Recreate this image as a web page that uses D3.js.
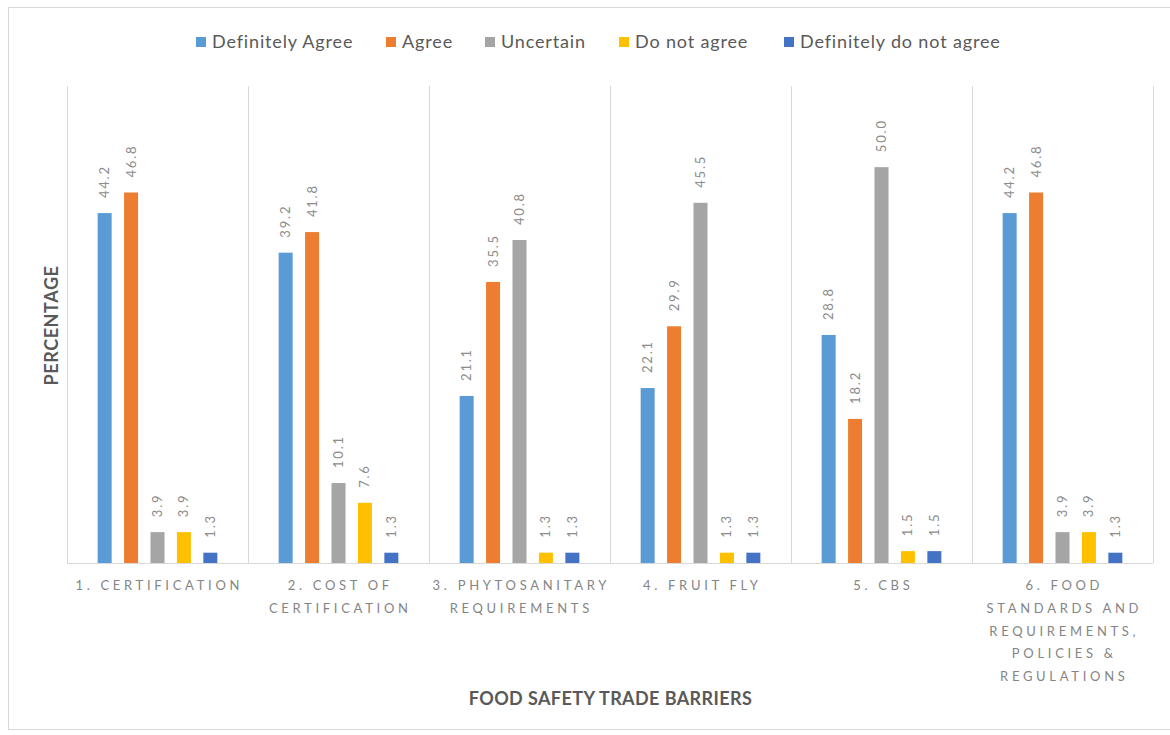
<!DOCTYPE html>
<html>
<head>
<meta charset="utf-8">
<script src="https://cdn.jsdelivr.net/npm/d3@7"></script>
<style>
  html, body { margin: 0; padding: 0; background: #fff; }
  svg { display: block; }
</style>
</head>
<body>
<svg id="chart" width="1170" height="735"></svg>
<script>
// Survey responses (%) on food safety trade barriers
const categories = [
  "1. Certification",
  "2. Cost of certification",
  "3. Phytosanitary requirements",
  "4. Fruit fly",
  "5. CBS",
  "6. Food standards and requirements, policies & regulations"
];
const tickLabels = [
  ["1. CERTIFICATION"],
  ["2. COST OF", "CERTIFICATION"],
  ["3. PHYTOSANITARY", "REQUIREMENTS"],
  ["4. FRUIT FLY"],
  ["5. CBS"],
  ["6. FOOD", "STANDARDS AND", "REQUIREMENTS,", "POLICIES &", "REGULATIONS"]
];
const seriesNames = ["Definitely Agree", "Agree", "Uncertain", "Do not agree", "Definitely do not agree"];
const definitelyAgree    = [44.2, 39.2, 21.1, 22.1, 28.8, 44.2];
const agree              = [46.8, 41.8, 35.5, 29.9, 18.2, 46.8];
const uncertain          = [3.9, 10.1, 40.8, 45.5, 50.0, 3.9];
const doNotAgree         = [3.9, 7.6, 1.3, 1.3, 1.5, 3.9];
const definitelyDoNot    = [1.3, 1.3, 1.3, 1.3, 1.5, 1.3];
const seriesValues = [definitelyAgree, agree, uncertain, doNotAgree, definitelyDoNot];
const seriesColors = ["#5B9BD5", "#ED7D31", "#A5A5A5", "#FFC000", "#4472C4"];

const svg = d3.select("#chart");
const font = "Lato, 'Open Sans', sans-serif";

// outer frame
svg.append("rect")
  .attr("x", 8.5).attr("y", 7.5).attr("width", 1170).attr("height", 722)
  .attr("fill", "#fff").attr("stroke", "#d9d9d9").attr("stroke-width", 1);

const plot = { left: 67, right: 1153, top: 88, bottom: 563 };

const x0 = d3.scaleBand().domain(categories).range([plot.left, plot.right]).padding(0);
const x1 = d3.scaleBand().domain(seriesNames).range([0, x0.bandwidth()])
  .paddingInner(0.47).paddingOuter(1.16);
const y = d3.scaleLinear().domain([0, 60]).range([plot.bottom, plot.top]);

// category separators
svg.append("g").selectAll("line")
  .data(categories.concat(["__end"]))
  .join("line")
  .attr("x1", (d, i) => Math.round(i < categories.length ? x0(d) : plot.right) + 0.5)
  .attr("x2", (d, i) => Math.round(i < categories.length ? x0(d) : plot.right) + 0.5)
  .attr("y1", plot.top - 2).attr("y2", plot.bottom)
  .attr("stroke", "#d9d9d9").attr("stroke-width", 1);

// bars
const rows = [];
categories.forEach((c, ci) => {
  seriesNames.forEach((s, si) => rows.push({ c, s, si, ci, v: seriesValues[si][ci] }));
});

const barG = svg.append("g");
barG.selectAll("rect")
  .data(rows)
  .join("rect")
  .attr("x", d => x0(d.c) + x1(d.s))
  .attr("y", d => y(d.v))
  .attr("width", x1.bandwidth())
  .attr("height", d => y(0) - y(d.v))
  .attr("fill", d => seriesColors[d.si]);

// value labels, rotated
barG.selectAll("text")
  .data(rows)
  .join("text")
  .attr("transform", d => `translate(${x0(d.c) + x1(d.s) + x1.bandwidth() / 2 + 4.5},${y(d.v) - 15}) rotate(-90)`)
  .attr("text-anchor", "start")
  .attr("font-family", font)
  .attr("font-size", 13)
  .attr("letter-spacing", "1.8px")
  .attr("fill", "#8c8c8c")
  .text(d => d.v.toFixed(1));

// baseline
svg.append("line")
  .attr("x1", plot.left).attr("x2", plot.right)
  .attr("y1", plot.bottom + 0.5).attr("y2", plot.bottom + 0.5)
  .attr("stroke", "#d9d9d9").attr("stroke-width", 1);

// category tick labels
const tickG = svg.append("g");
categories.forEach((c, ci) => {
  const t = tickG.append("text")
    .attr("x", x0(c) + x0.bandwidth() / 2)
    .attr("y", 590)
    .attr("text-anchor", "middle")
    .attr("font-family", font)
    .attr("font-size", 13)
    .attr("letter-spacing", "3.7px")
    .attr("fill", "#858585");
  tickLabels[ci].forEach((line, li) => {
    t.append("tspan")
      .attr("x", x0(c) + x0.bandwidth() / 2 + 1.8)
      .attr("dy", li === 0 ? 0 : 22.8)
      .text(line);
  });
});

// axis titles
svg.append("text")
  .attr("x", (plot.left + plot.right) / 2 + 0.5).attr("y", 705)
  .attr("text-anchor", "middle")
  .attr("font-family", font).attr("font-size", 18).attr("font-weight", "bold")
  .attr("letter-spacing", "0.4px")
  .attr("fill", "#595959")
  .text("FOOD SAFETY TRADE BARRIERS");

svg.append("text")
  .attr("transform", `translate(58,${(plot.top + plot.bottom) / 2}) rotate(-90)`)
  .attr("text-anchor", "middle")
  .attr("font-family", font).attr("font-size", 18).attr("font-weight", "bold")
  .attr("letter-spacing", "0.6px")
  .attr("fill", "#595959")
  .text("PERCENTAGE");

// legend: swatch + label per series
const legendX = [196, 386, 485, 619, 784];
const items = svg.append("g").selectAll("g").data(seriesNames).join("g")
  .attr("transform", (d, i) => `translate(${legendX[i]},48)`);
items.append("rect")
  .attr("width", 10).attr("height", 10).attr("y", -11)
  .attr("fill", (d, i) => seriesColors[i]);
items.append("text")
  .attr("x", 16).attr("y", 0)
  .attr("font-family", font).attr("font-size", 18)
  .attr("letter-spacing", "0.85px")
  .attr("fill", "#595959")
  .text(d => d);
</script>
</body>
</html>
